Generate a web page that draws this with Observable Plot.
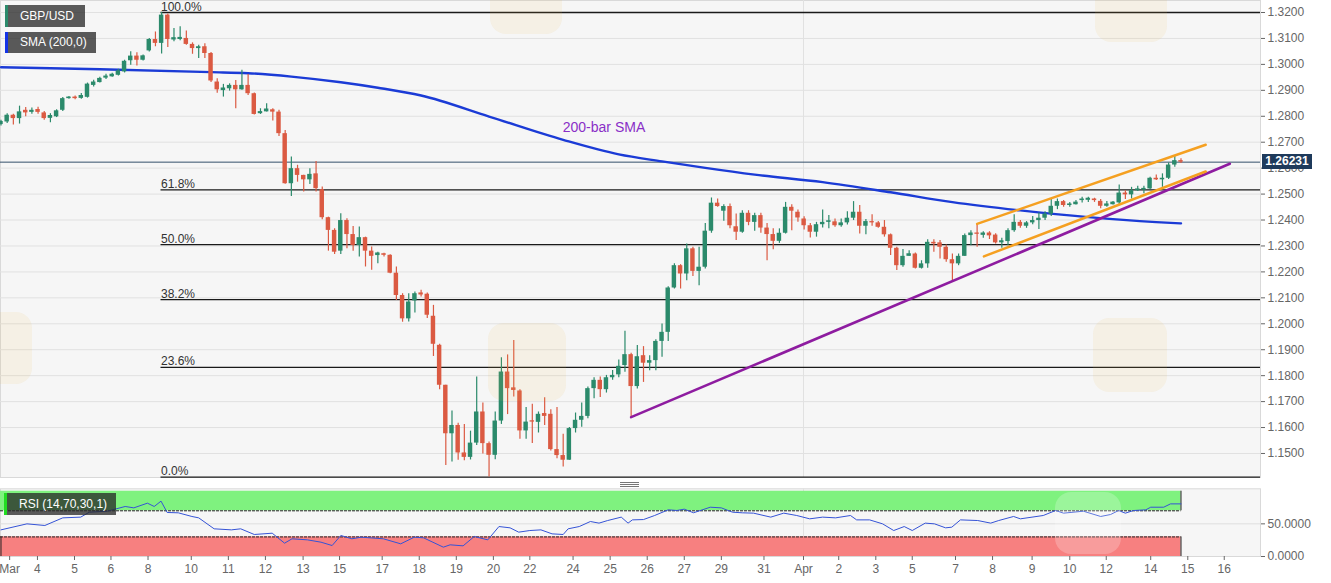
<!DOCTYPE html>
<html>
<head>
<meta charset="utf-8">
<script src="https://cdn.jsdelivr.net/npm/d3@7"></script>
<script src="https://cdn.jsdelivr.net/npm/@observablehq/plot@0.6"></script>
<style>
  body { margin: 0; background: #fff; font-family: "Liberation Sans", Arial, sans-serif; }
  #wrap { position: relative; width: 1331px; height: 583px; overflow: hidden; }
  #price { position: absolute; left: 0; top: 0; }
  #rsi { position: absolute; left: 0; top: 480px; }
  .box { position: absolute; background: rgba(40,40,40,0.76); color: #fff; font-size: 12px;
         line-height: 22px; padding-left: 12px; box-sizing: border-box; white-space: nowrap; }
  .logo { position: absolute; border-radius: 16px; background: rgba(240,190,80,0.10); pointer-events: none; }
</style>
</head>
<body>
<div id="wrap">
  <div id="price"></div>
  <div id="rsi"></div>
</div>
<script>
// 4-hour candles GBP/USD, bar index 0..191 (early March to 14 April)
const open = [
  1.2768,1.2778,1.2804,1.2791,1.2823,1.2815,1.2826,1.2813,1.2795,1.2798,
  1.2823,1.2868,1.2874,1.2869,1.2873,1.2919,1.2930,1.2947,1.2952,1.2958,
  1.2971,1.3014,1.3032,1.3016,1.3052,1.3096,1.3081,1.3190,1.3097,1.3096,
  1.3100,1.3077,1.3061,1.3068,1.3042,1.2932,1.2902,1.2906,1.2919,1.2902,
  1.2919,1.2887,1.2810,1.2820,1.2825,1.2816,1.2733,1.2540,1.2598,1.2572,
  1.2555,1.2578,1.2517,1.2409,1.2360,1.2280,1.2398,1.2344,1.2302,1.2332,
  1.2280,1.2266,1.2270,1.2264,1.2195,1.2109,1.2019,1.2088,1.2116,1.2114,
  1.2029,1.1917,1.1763,1.1576,1.1608,1.1502,1.1485,1.1540,1.1660,1.1538,
  1.1493,1.1625,1.1814,1.1750,1.1741,1.1587,1.1626,1.1620,1.1651,1.1651,
  1.1515,1.1492,1.1474,1.1596,1.1628,1.1643,1.1750,1.1782,1.1746,1.1792,
  1.1803,1.1839,1.1881,1.1758,1.1877,1.1848,1.1858,1.1932,1.1967,1.2138,
  1.2224,1.2192,1.2289,1.2202,1.2218,1.2357,1.2465,1.2434,1.2452,1.2374,
  1.2353,1.2426,1.2391,1.2417,1.2369,1.2344,1.2318,1.2349,1.2449,1.2430,
  1.2404,1.2378,1.2353,1.2382,1.2391,1.2393,1.2378,1.2389,1.2407,1.2430,
  1.2376,1.2394,1.2389,1.2372,1.2343,1.2291,1.2224,1.2260,1.2269,1.2214,
  1.2231,1.2314,1.2312,1.2295,1.2247,1.2231,1.2260,1.2340,1.2350,1.2344,
  1.2347,1.2342,1.2312,1.2317,1.2359,1.2391,1.2376,1.2389,1.2398,1.2407,
  1.2423,1.2453,1.2471,1.2456,1.2462,1.2475,1.2479,1.2481,1.2472,1.2453,
  1.2462,1.2466,1.2504,1.2497,1.2513,1.2516,1.2520,1.2561,1.2555,1.2561,
  1.2612,1.2629
];
const high = [
  1.2785,1.2810,1.2808,1.2839,1.2834,1.2832,1.2835,1.2818,1.2810,1.2825,
  1.2872,1.2876,1.2878,1.2888,1.2928,1.2939,1.2950,1.2962,1.2966,1.2981,
  1.3016,1.3049,1.3045,1.3036,1.3100,1.3125,1.3200,1.3194,1.3138,1.3145,
  1.3129,1.3083,1.3074,1.3080,1.3046,1.2945,1.2923,1.2925,1.2938,1.2977,
  1.2961,1.2890,1.2829,1.2848,1.2829,1.2823,1.2745,1.2643,1.2611,1.2573,
  1.2598,1.2626,1.2527,1.2411,1.2366,1.2424,1.2405,1.2375,1.2373,1.2334,
  1.2296,1.2276,1.2272,1.2266,1.2219,1.2116,1.2116,1.2123,1.2129,1.2119,
  1.2071,1.1921,1.1763,1.1664,1.1617,1.1612,1.1586,1.1795,1.1695,1.1544,
  1.1660,1.1869,1.1880,1.1936,1.1746,1.1677,1.1690,1.1660,1.1715,1.1669,
  1.1677,1.1574,1.1600,1.1656,1.1695,1.1756,1.1792,1.1795,1.1801,1.1820,
  1.1860,1.1971,1.1886,1.1916,1.1912,1.1877,1.1938,1.1999,1.2143,1.2231,
  1.2228,1.2308,1.2295,1.2295,1.2387,1.2485,1.2481,1.2459,1.2462,1.2423,
  1.2436,1.2436,1.2426,1.2426,1.2387,1.2366,1.2366,1.2468,1.2459,1.2439,
  1.2413,1.2387,1.2391,1.2439,1.2417,1.2404,1.2404,1.2432,1.2471,1.2456,
  1.2402,1.2420,1.2394,1.2398,1.2346,1.2295,1.2286,1.2282,1.2273,1.2243,
  1.2324,1.2324,1.2321,1.2304,1.2269,1.2269,1.2346,1.2359,1.2385,1.2355,
  1.2355,1.2347,1.2330,1.2366,1.2420,1.2398,1.2394,1.2414,1.2427,1.2432,
  1.2479,1.2481,1.2475,1.2468,1.2475,1.2488,1.2488,1.2484,1.2479,1.2471,
  1.2471,1.2535,1.2513,1.2526,1.2530,1.2530,1.2565,1.2574,1.2578,1.2620,
  1.2646,1.2636
];
const low = [
  1.2762,1.2772,1.2766,1.2770,1.2798,1.2808,1.2808,1.2785,1.2775,1.2795,
  1.2818,1.2866,1.2864,1.2866,1.2870,1.2913,1.2928,1.2942,1.2950,1.2955,
  1.2967,1.2997,1.2994,1.3013,1.3048,1.3068,1.3040,1.3065,1.3087,1.3091,
  1.3074,1.3039,1.3023,1.3023,1.2930,1.2889,1.2874,1.2897,1.2829,1.2900,
  1.2880,1.2805,1.2807,1.2816,1.2782,1.2722,1.2538,1.2491,1.2546,1.2508,
  1.2537,1.2508,1.2401,1.2280,1.2267,1.2267,1.2289,1.2280,1.2257,1.2219,
  1.2206,1.2231,1.2257,1.2193,1.2090,1.2006,1.2007,1.2042,1.2103,1.2020,
  1.1874,1.1746,1.1454,1.1467,1.1474,1.1472,1.1475,1.1531,1.1498,1.1409,
  1.1476,1.1612,1.1650,1.1718,1.1555,1.1555,1.1538,1.1579,1.1608,1.1510,
  1.1480,1.1448,1.1474,1.1579,1.1601,1.1634,1.1711,1.1716,1.1733,1.1782,
  1.1792,1.1813,1.1640,1.1749,1.1774,1.1819,1.1819,1.1871,1.1932,1.2134,
  1.2134,1.2166,1.2182,1.2147,1.2211,1.2349,1.2449,1.2395,1.2366,1.2321,
  1.2349,1.2378,1.2357,1.2349,1.2243,1.2285,1.2310,1.2346,1.2359,1.2391,
  1.2362,1.2331,1.2334,1.2369,1.2366,1.2372,1.2372,1.2381,1.2398,1.2346,
  1.2343,1.2376,1.2368,1.2334,1.2263,1.2205,1.2218,1.2260,1.2211,1.2211,
  1.2214,1.2276,1.2250,1.2237,1.2166,1.2224,1.2260,1.2301,1.2295,1.2330,
  1.2325,1.2308,1.2291,1.2301,1.2353,1.2368,1.2368,1.2382,1.2363,1.2398,
  1.2414,1.2440,1.2449,1.2449,1.2458,1.2466,1.2468,1.2468,1.2443,1.2449,
  1.2458,1.2458,1.2479,1.2481,1.2510,1.2501,1.2517,1.2552,1.2526,1.2556,
  1.2603,1.2618
];
const close = [
  1.2780,1.2804,1.2791,1.2817,1.2813,1.2823,1.2815,1.2791,1.2800,1.2821,
  1.2868,1.2874,1.2868,1.2880,1.2924,1.2932,1.2946,1.2955,1.2962,1.2975,
  1.3012,1.3032,1.3016,1.3033,1.3096,1.3081,1.3190,1.3096,1.3100,1.3104,
  1.3077,1.3061,1.3068,1.3042,1.2936,1.2902,1.2906,1.2919,1.2902,1.2919,
  1.2887,1.2807,1.2818,1.2825,1.2816,1.2733,1.2540,1.2598,1.2572,1.2555,
  1.2576,1.2521,1.2409,1.2360,1.2276,1.2398,1.2344,1.2302,1.2332,1.2280,
  1.2260,1.2270,1.2264,1.2195,1.2109,1.2019,1.2084,1.2116,1.2114,1.2033,
  1.1921,1.1763,1.1576,1.1608,1.1502,1.1485,1.1540,1.1660,1.1538,1.1493,
  1.1625,1.1814,1.1750,1.1746,1.1587,1.1621,1.1621,1.1651,1.1646,1.1515,
  1.1492,1.1474,1.1596,1.1628,1.1643,1.1750,1.1782,1.1746,1.1792,1.1801,
  1.1836,1.1881,1.1758,1.1873,1.1848,1.1858,1.1932,1.1967,1.2138,1.2224,
  1.2192,1.2289,1.2202,1.2218,1.2357,1.2465,1.2452,1.2452,1.2378,1.2353,
  1.2426,1.2391,1.2417,1.2369,1.2344,1.2318,1.2349,1.2449,1.2434,1.2408,
  1.2378,1.2353,1.2382,1.2391,1.2397,1.2378,1.2389,1.2407,1.2430,1.2376,
  1.2394,1.2389,1.2372,1.2343,1.2291,1.2224,1.2260,1.2270,1.2214,1.2231,
  1.2314,1.2308,1.2295,1.2247,1.2231,1.2260,1.2340,1.2350,1.2345,1.2347,
  1.2342,1.2312,1.2320,1.2359,1.2391,1.2376,1.2389,1.2398,1.2407,1.2423,
  1.2453,1.2471,1.2456,1.2462,1.2466,1.2481,1.2481,1.2475,1.2453,1.2462,
  1.2466,1.2504,1.2497,1.2513,1.2520,1.2522,1.2561,1.2555,1.2561,1.2612,
  1.2629,1.2623
];

// 200-bar SMA (bar index, price)
const smaX = [0, 16, 34, 40, 47, 55, 61, 68, 79, 91, 100, 107, 114, 122, 133, 144, 154, 165, 176, 187, 191];
const smaV = [1.2989, 1.2981, 1.2970, 1.2966, 1.2953, 1.2931, 1.2910, 1.2880, 1.2799, 1.2709, 1.2653,
              1.2626, 1.2601, 1.2575, 1.2546, 1.2507, 1.2469, 1.2437, 1.2411, 1.2392, 1.2387];

// RSI(14)
const rsiX = [0, 4.2, 7.1, 10, 12.9, 14.3, 17.2, 20.1, 21.5, 23.7, 24.8, 25.9, 26.9, 28.7, 30.9, 32, 34.5,
  37.3, 38.8, 41, 43.9, 45.9, 47.1, 49.6, 51.8, 53.6, 55, 56.8, 58.3, 61.9, 64.7, 66.9, 68.4, 71.6, 72.7,
  74.8, 76.6, 78.8, 80.6, 82.4, 83.8, 85.6, 87.4, 89.2, 91, 91.8, 93.6, 95.4, 96.8, 98.2, 100.4, 101.5,
  102.2, 104, 105.8, 108, 109.4, 110.6, 112.1, 114.8, 116.6, 118.4, 120, 121.8, 124.6, 126.7, 128.8,
  130.9, 133, 135.1, 137.5, 138.5, 140.6, 142.7, 144.5, 146.2, 147.5, 149.6, 151.1, 152.9, 153.9, 155.3,
  158.1, 160.2, 161.5, 163.9, 165, 168.7, 170.7, 172, 175.2, 178, 179.6, 180.9, 182, 183.3, 185.3, 186.1,
  188.2, 189.3, 191];
const rsiV = [40.8, 50, 47.5, 59.2, 60.3, 67.9, 69.4, 76.6, 74.5, 81.7, 76.6, 84.8, 67.4, 66.9, 61.3, 59.2,
  42.4, 40.8, 42.4, 33.7, 35.7, 20.4, 27.1, 25.5, 21.9, 16.8, 32.2, 27.1, 29.6, 27.1, 19.4, 29.6, 28.6,
  14.3, 17.9, 16.3, 30.6, 25.5, 45.9, 43.9, 37.3, 39.8, 40.8, 34.7, 33.7, 42.4, 45.9, 53.6, 51.1, 55.1,
  60.3, 51.1, 56.1, 56.6, 62.8, 71.5, 70.5, 72.5, 67, 75.5, 74.5, 67.9, 66.9, 66.4, 60.3, 66.4, 62.8,
  57.7, 60.3, 59.2, 62.8, 56.1, 56.1, 50, 39.8, 45.9, 39.8, 51.1, 50, 43.9, 44.9, 56.1, 55.1, 51.1, 55.1,
  61.3, 57.7, 62.8, 70.4, 66.4, 69.4, 61.3, 64.3, 70.4, 66.4, 70.4, 71.5, 75.5, 75.5, 80.6, 80.6];

// Fibonacci retracement of the 1.3200 -> 1.1409 drop
const fibLevels = [1.3200, 1.2516, 1.2305, 1.2093, 1.1832, 1.1409];
const fibLabels = ["100.0%", "61.8%", "50.0%", "38.2%", "23.6%", "0.0%"];
const fibStartBar = 25.9;

// drawn trend lines: [bar, price] end points
const supportLine = [[102, 1.1640], [198.9, 1.2617]];
const channelTop = [[158.0, 1.2385], [195, 1.2690]];
const channelBottom = [[159.1, 1.2260], [195, 1.2587]];

const lastPrice = 1.26231;
const priceTicks = [1.15, 1.16, 1.17, 1.18, 1.19, 1.20, 1.21, 1.22, 1.23, 1.24, 1.25, 1.26, 1.27, 1.28, 1.29, 1.30, 1.31, 1.32];
const rsiTicks = [0, 50];

// date labels along the bottom and the bar where each one sits
const dayLabels = ["Mar","4","5","6","8","10","11","12","13","15","17","18","19","20","22","24","25","26","27",
                   "29","31","Apr","2","3","5","7","8","9","10","12","14","15","16"];
const dayPos = [1.4, 5.9, 11.9, 17.8, 23.8, 30.8, 36.8, 42.8, 48.9, 54.8, 61.7, 67.7, 73.7, 79.7, 85.6, 92.6,
                98.6, 104.6, 110.6, 116.6, 123.5, 129.9, 135.6, 141.6, 147.5, 154.5, 160.5, 166.9, 173, 178.9,
                186.1, 192.1, 198];
const monthLine = 129.9;

const xDomain = [-0.08, 203.87];
const lastBar = open.length - 1;
const font = "'Liberation Sans', Arial, sans-serif";
const upColor = "#2b8a6b", downColor = "#db5a42";

const candles = open.map((o, i) => ({i, o, h: high[i], l: low[i], c: close[i]}));
const bodyLo = d => Math.min(d.o, d.c) - (Math.abs(d.o - d.c) < 0.0005 ? 0.0003 : 0);
const bodyHi = d => Math.max(d.o, d.c) + (Math.abs(d.o - d.c) < 0.0005 ? 0.0003 : 0);
const candleColor = d => d.c >= d.o ? upColor : downColor;
const sma = smaX.map((x, i) => ({x, v: smaV[i]}));
const rsi = rsiX.map((x, i) => ({x, v: rsiV[i]}));
const fib = fibLevels.map((v, i) => ({v, label: fibLabels[i]}));
const seg = pts => pts.map(([x, y]) => ({x, y}));
const dayName = new Map(dayPos.map((p, i) => [p, dayLabels[i]]));

let priceChart = Plot.plot({
  width: 1331,
  height: 480,
  marginLeft: 0,
  marginRight: 71,
  marginTop: 0,
  marginBottom: 3,
  style: {fontFamily: font, fontSize: "12px", background: "transparent"},
  x: {domain: xDomain, axis: null},
  y: {domain: [1.14074, 1.32463]},
  marks: [
    Plot.frame({fill: "#f6f6f6", stroke: "#d9d9d9"}),
    Plot.gridY(priceTicks, {stroke: "#e1e1e1", strokeOpacity: 1}),
    Plot.ruleX([monthLine], {stroke: "#e1e1e1"}),
    Plot.ruleY(fib, {y: "v", x1: fibStartBar, x2: xDomain[1], stroke: "#1a1a1a", strokeWidth: 1.3}),
    Plot.text(fib, {x: fibStartBar, y: "v", text: "label", textAnchor: "start", lineAnchor: "bottom",
                    dy: -2, fill: "#333", fontSize: 12}),
    Plot.ruleY([lastPrice], {stroke: "#34506a", strokeWidth: 1}),
    Plot.line(sma, {x: "x", y: "v", stroke: "#1b3bd6", strokeWidth: 2.4, curve: "monotone-x"}),
    Plot.ruleX(candles, {x: "i", y1: "l", y2: "h", stroke: candleColor, strokeWidth: 1.2}),
    Plot.rect(candles, {x1: d => d.i - 0.36, x2: d => d.i + 0.36, y1: bodyLo, y2: bodyHi, fill: candleColor}),
    Plot.line(seg(supportLine), {x: "x", y: "y", stroke: "#8e1ca0", strokeWidth: 2.6}),
    Plot.line(seg(channelTop), {x: "x", y: "y", stroke: "#f5a021", strokeWidth: 2.5}),
    Plot.line(seg(channelBottom), {x: "x", y: "y", stroke: "#f5a021", strokeWidth: 2.5}),
    Plot.text([{x: 97.6, y: 1.2757, t: "200-bar SMA"}], {x: "x", y: "y", text: "t", fill: "#8a2fc7", fontSize: 14}),
    Plot.axisY(priceTicks, {anchor: "right", tickFormat: d => d.toFixed(4), tickSize: 4, tickPadding: 3,
                            fontSize: 12, color: "#666", label: null})
  ]
});
d3.select('#price').append(() => priceChart);

let rsiChart = Plot.plot({
  width: 1331,
  height: 103,
  marginLeft: 0,
  marginRight: 71,
  marginTop: 8.3,
  marginBottom: 27,
  style: {fontFamily: font, fontSize: "12px", background: "transparent"},
  x: {domain: xDomain},
  y: {domain: [0, 103.7]},
  marks: [
    Plot.frame({fill: "#f6f6f6", stroke: "#d9d9d9"}),
    Plot.gridY([50], {stroke: "#dedede", strokeOpacity: 1}),
    Plot.ruleX([monthLine], {stroke: "#e1e1e1"}),
    Plot.rect([{a: 70, b: 100, f: "#7ff27f"}, {a: 0, b: 30, f: "#f78080"}],
              {x1: xDomain[0], x2: lastBar, y1: "a", y2: "b", fill: "f"}),
    Plot.ruleY([70, 30], {x1: xDomain[0], x2: lastBar, stroke: "#222", strokeDasharray: "3,1"}),
    Plot.ruleX([lastBar], {y1: 70, y2: 100, stroke: "#222"}),
    Plot.ruleX([lastBar], {y1: 0, y2: 30, stroke: "#222"}),
    Plot.ruleX([0], {y1: 0, y2: 30, stroke: "#222"}),
    Plot.line(rsi, {x: "x", y: "v", stroke: "#3553d6", strokeWidth: 1}),
    Plot.axisY(rsiTicks, {anchor: "right", tickFormat: d => d.toFixed(4), tickSize: 4, tickPadding: 3,
                          fontSize: 12, color: "#666", label: null}),
    Plot.axisX(dayPos, {anchor: "bottom", tickFormat: d => dayName.get(d), tickSize: 4, tickPadding: 4,
                        fontSize: 12, color: "#666", label: null})
  ]
});
d3.select('#rsi').append(() => rsiChart);

// overlays: legend tags, last price tag, panel handle, faint watermark tiles
const wrap = d3.select('#wrap');
const tag = (left, top, w, h, stripe, text) =>
  wrap.append('div').attr('class', 'box')
    .style('left', left + 'px').style('top', top + 'px').style('width', w + 'px').style('height', h + 'px')
    .style('line-height', h + 'px').style('border-left', '3px solid ' + stripe).text(text);
tag(5, 5, 80, 22, upColor, 'GBP/USD');
tag(5, 32, 91, 21, '#1433e6', 'SMA (200,0)');
tag(4, 493, 112, 22, '#22dd22', 'RSI (14,70,30,1)');

wrap.append('div').text(lastPrice.toFixed(5))
  .style('position', 'absolute').style('left', '1262px').style('top', '154px')
  .style('width', '50px').style('height', '15px').style('line-height', '15px')
  .style('background', '#1e3a5b').style('color', '#fff').style('font-weight', 'bold')
  .style('font-size', '12px').style('text-align', 'center');

wrap.append('div')
  .style('position', 'absolute').style('left', '620px').style('top', '482px')
  .style('width', '19px').style('height', '1px').style('background', '#777')
  .style('box-shadow', '0 2px 0 #777, 0 4px 0 #777');

const tiles = [
  {x: 490, y: -38, s: 72}, {x: 1095, y: -30, s: 72}, {x: 488, y: 323, s: 78},
  {x: 1093, y: 318, s: 74}, {x: -40, y: 312, s: 72}
];
tiles.forEach(m => {
  wrap.append('div').attr('class', 'logo')
    .style('left', m.x + 'px').style('top', m.y + 'px').style('width', m.s + 'px').style('height', m.s + 'px');
});
wrap.append('div').attr('class', 'logo')
  .style('left', '1055px').style('top', '492px').style('width', '66px').style('height', '62px')
  .style('background', 'rgba(255,255,255,0.22)');
</script>
</body>
</html>
